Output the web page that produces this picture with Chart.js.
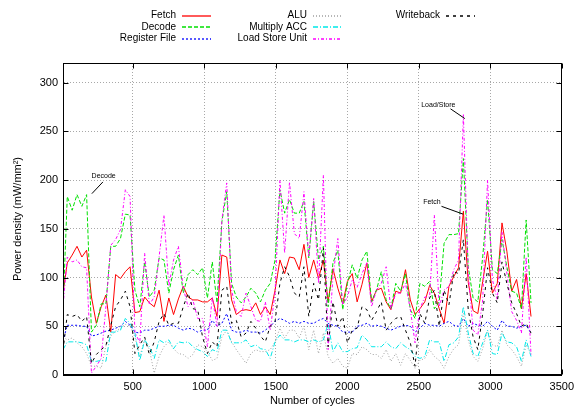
<!DOCTYPE html>
<html>
<head>
<meta charset="utf-8">
<script src="https://cdn.jsdelivr.net/npm/chart.js@4"></script>
<style>
  body { margin: 0; background: #fff; }
  #wrap { width: 579px; height: 408px; }
</style>
</head>
<body>
<div id="wrap"><canvas id="power-chart"></canvas></div>
<script>
// sample positions (cycles) shared by every unit
const cycles = [12, 42, 76, 110, 144, 177, 211, 245, 279, 312,
  346, 380, 414, 448, 481, 515, 549, 583, 616, 650,
  684, 718, 752, 785, 819, 853, 887, 920, 954, 988,
  1022, 1056, 1089, 1123, 1157, 1191, 1224, 1258, 1292, 1326,
  1360, 1393, 1427, 1461, 1495, 1529, 1562, 1596, 1630, 1664,
  1697, 1731, 1765, 1799, 1833, 1866, 1900, 1934, 1968, 2001,
  2035, 2069, 2103, 2137, 2170, 2204, 2238, 2272, 2305, 2339,
  2373, 2407, 2441, 2474, 2508, 2542, 2576, 2609, 2643, 2677,
  2711, 2745, 2778, 2812, 2846, 2880, 2913, 2947, 2981, 3015,
  3049, 3082, 3116, 3150, 3184, 3218, 3251, 3285];

const fetchPower = [84, 115, 123, 132, 121, 128, 80, 53, 70, 82,
  44, 103, 99, 106, 111, 64, 65, 80, 74, 70,
  87, 55, 79, 62, 78, 91, 80, 77, 77, 75,
  75, 79, 60, 123, 121, 77, 62, 66, 67, 66,
  74, 62, 70, 62, 87, 118, 104, 121, 120, 108,
  134, 100, 118, 99, 118, 75, 109, 89, 73, 96,
  104, 75, 93, 115, 75, 87, 89, 75, 67, 86,
  84, 108, 77, 62, 68, 75, 92, 84, 68, 53,
  91, 101, 110, 168, 95, 66, 63, 96, 127, 84,
  94, 156, 127, 86, 98, 68, 104, 60];

const decodePower = [67, 183, 169, 185, 173, 185, 44, 51, 73, 73,
  132, 132, 140, 165, 164, 87, 70, 116, 80, 87,
  120, 118, 84, 108, 123, 84, 103, 108, 103, 110,
  79, 116, 74, 157, 188, 94, 80, 74, 80, 89,
  84, 75, 87, 94, 118, 190, 166, 180, 166, 166,
  178, 120, 178, 118, 132, 70, 115, 128, 67, 94,
  113, 99, 118, 127, 75, 87, 106, 77, 68, 94,
  86, 104, 67, 58, 94, 91, 96, 68, 75, 135,
  144, 144, 145, 222, 111, 79, 75, 121, 180, 108,
  104, 139, 111, 86, 84, 68, 159, 74];

const regFilePower = [35, 51, 51, 51, 50, 50, 40, 41, 43, 45,
  46, 48, 50, 55, 51, 44, 43, 46, 46, 48,
  50, 50, 51, 51, 48, 46, 48, 47, 44, 46,
  46, 56, 50, 53, 63, 46, 44, 44, 46, 44,
  44, 43, 46, 50, 55, 58, 56, 53, 55, 53,
  55, 53, 53, 56, 58, 53, 51, 50, 44, 44,
  44, 50, 51, 53, 50, 51, 50, 48, 46, 48,
  50, 51, 50, 44, 48, 53, 51, 51, 50, 53,
  55, 51, 50, 58, 50, 53, 51, 50, 55, 50,
  46, 56, 50, 50, 48, 50, 51, 43];

const aluPower = [39, 36, 38, 33, 29, 22, 9, 9, 7, 30,
  40, 45, 48, 52, 50, 39, 19, 36, 26, 2,
  19, 29, 34, 27, 22, 21, 17, 21, 31, 29,
  24, 15, 17, 39, 46, 34, 26, 19, 12, 22,
  26, 24, 24, 26, 34, 48, 38, 46, 46, 38,
  50, 26, 46, 22, 43, 19, 12, 17, 9, 7,
  22, 21, 29, 26, 21, 21, 17, 26, 14, 22,
  10, 22, 15, 7, 15, 17, 26, 19, 15, 7,
  19, 27, 31, 63, 36, 19, 14, 27, 46, 31,
  29, 46, 31, 26, 19, 9, 31, 22];

const macPower = [26, 34, 34, 34, 33, 31, 14, 14, 15, 14,
  44, 44, 46, 58, 53, 43, 15, 36, 29, 17,
  36, 33, 36, 27, 34, 33, 34, 29, 26, 24,
  19, 26, 24, 46, 46, 33, 33, 33, 36, 29,
  31, 27, 26, 17, 34, 41, 36, 36, 34, 36,
  36, 34, 36, 34, 36, 53, 24, 33, 24, 24,
  27, 28, 41, 36, 29, 29, 29, 34, 29, 27,
  33, 29, 26, 19, 17, 19, 36, 34, 34, 14,
  31, 33, 39, 70, 43, 22, 19, 33, 46, 22,
  21, 43, 34, 33, 29, 14, 36, 19];

const lsuPower = [70, 121, 116, 118, 111, 110, 2, 9, 17, 70,
  133, 139, 149, 190, 183, 44, 33, 125, 72, 80,
  121, 164, 91, 118, 132, 89, 70, 77, 58, 58,
  29, 80, 50, 159, 197, 87, 65, 60, 84, 70,
  56, 55, 75, 46, 84, 200, 125, 198, 145, 140,
  188, 121, 181, 94, 205, 26, 101, 140, 72, 80,
  98, 90, 104, 115, 70, 87, 94, 111, 67, 84,
  84, 94, 67, 33, 68, 80, 80, 164, 70, 87,
  91, 108, 118, 267, 104, 46, 41, 77, 200, 98,
  77, 147, 104, 65, 56, 43, 121, 21];

const writebackPower = [25, 62, 60, 62, 55, 60, 12, 21, 26, 30,
  51, 70, 77, 86, 70, 22, 31, 39, 21, 34,
  55, 63, 51, 53, 53, 70, 84, 68, 67, 39,
  22, 34, 29, 87, 91, 53, 56, 39, 43, 55,
  48, 40, 34, 50, 55, 94, 111, 101, 84, 80,
  111, 60, 94, 77, 130, 29, 75, 50, 60, 33,
  46, 48, 70, 67, 56, 65, 75, 46, 53, 58,
  60, 46, 33, 9, 63, 53, 79, 87, 50, 87,
  72, 106, 104, 139, 67, 39, 26, 63, 110, 84,
  74, 116, 94, 74, 63, 50, 53, 43];

const xTicks = [500, 1000, 1500, 2000, 2500, 3000, 3500];
const yTicks = [0, 50, 100, 150, 200, 250, 300];

// arrow labels, in data coordinates
const notes = [
  { text: 'Decode', at: [212, 204], from: [291, 198], to: [214, 186] },
  { text: 'Load/Store', at: [2517, 277], from: [2722, 273], to: [2822, 263] },
  { text: 'Fetch', at: [2531, 177], from: [2659, 173], to: [2810, 165] }
];

const FONT = '"Liberation Sans", Arial, Helvetica, sans-serif';
Chart.defaults.font.family = FONT;
Chart.defaults.color = '#000';

function points(values) {
  return values.map((v, i) => ({ x: cycles[i], y: v }));
}

function line(label, values, color, dash) {
  return {
    label: label,
    data: points(values),
    borderColor: color,
    keyColor: color,
    keyDash: dash,
    borderWidth: 1,
    borderDash: dash,
    pointRadius: 0,
    tension: 0,
    fill: false
  };
}

// gnuplot style frame: full box with inward ticks
const frame = {
  id: 'frame',
  afterDatasetsDraw(chart) {
    let ctx = chart.ctx, a = chart.chartArea;
    let xs = chart.scales.x, ys = chart.scales.y;
    let l = Math.round(a.left) + 0.5, r = Math.round(a.right) - 0.5;
    let t = Math.round(a.top) + 0.5, b = Math.round(a.bottom) - 0.5;
    ctx.save();
    ctx.setLineDash([]);
    ctx.strokeStyle = '#000';
    ctx.lineWidth = 1;
    ctx.strokeRect(l, t, r - l, b - t);
    ctx.beginPath();
    xTicks.forEach(v => {
      let px = Math.round(xs.getPixelForValue(v)) + 0.5;
      ctx.moveTo(px, b); ctx.lineTo(px, b - 5);
      ctx.moveTo(px, t); ctx.lineTo(px, t + 5);
    });
    yTicks.forEach(v => {
      let py = Math.round(ys.getPixelForValue(v)) + 0.5;
      ctx.moveTo(l, py); ctx.lineTo(l + 5, py);
      ctx.moveTo(r, py); ctx.lineTo(r - 5, py);
    });
    ctx.stroke();

    // labels with pointer lines
    ctx.font = '7px ' + FONT;
    ctx.fillStyle = '#000';
    ctx.textBaseline = 'middle';
    ctx.textAlign = 'left';
    notes.forEach(n => {
      ctx.fillText(n.text, xs.getPixelForValue(n.at[0]), ys.getPixelForValue(n.at[1]));
      ctx.beginPath();
      ctx.moveTo(xs.getPixelForValue(n.from[0]), ys.getPixelForValue(n.from[1]));
      ctx.lineTo(xs.getPixelForValue(n.to[0]), ys.getPixelForValue(n.to[1]));
      ctx.stroke();
    });
    ctx.restore();
  }
};

// key in three columns, text right aligned before the sample line
const key = {
  id: 'key',
  afterDraw(chart) {
    let ctx = chart.ctx;
    let colRight = [176, 307, 440];
    let rowY = [15.5, 27, 38.5];
    chart.data.datasets.forEach((ds, i) => {
      let x = colRight[Math.floor(i / 3)], y = rowY[i % 3];
      ctx.save();
      ctx.font = '10px ' + FONT;
      ctx.fillStyle = '#000';
      ctx.textAlign = 'right';
      ctx.textBaseline = 'middle';
      ctx.fillText(ds.label, x, y);
      ctx.lineWidth = 1.3;
      ctx.strokeStyle = ds.keyColor;
      ctx.setLineDash(ds.keyDash);
      ctx.beginPath();
      ctx.moveTo(x + 6, Math.round(y));
      ctx.lineTo(x + 35, Math.round(y));
      ctx.stroke();
      ctx.restore();
    });
  }
};

function draw_chart(target) {
  let ctx = document.getElementById(target).getContext('2d');
  let datasets = [
    line('Fetch', fetchPower, '#ff0000', []),
    line('Decode', decodePower, '#00e000', [4, 2]),
    line('Register File', regFilePower, '#0000ff', [2, 2]),
    line('ALU', aluPower, '#a0a0a0', [1, 2]),
    line('Multiply ACC', macPower, '#00e8e8', [5, 2, 1, 2]),
    line('Load Store Unit', lsuPower, '#ff00ff', [3, 2, 1, 2]),
    line('Writeback', writebackPower, '#000000', [3, 4])
  ];
  // later units drawn on top, as gnuplot does
  datasets.forEach((ds, i) => { ds.order = datasets.length - i; });

  new Chart(ctx, {
    type: 'line',
    data: { datasets: datasets },
    plugins: [frame, key],
    options: {
      responsive: true,
      maintainAspectRatio: false,
      animation: false,
      layout: { padding: { top: 63, right: 15, left: 0, bottom: 0 } },
      plugins: { legend: { display: false }, tooltip: { enabled: false } },
      scales: {
        x: {
          type: 'linear',
          min: 12,
          max: 3500,
          afterBuildTicks: s => { s.ticks = xTicks.map(v => ({ value: v })); },
          afterFit: s => { s.height = 33; },
          grid: { color: '#a8a8a8', drawTicks: false },
          border: { display: true, color: '#000', dash: [1, 2] },
          ticks: { font: { size: 11 }, padding: 5, maxRotation: 0, callback: v => String(v) },
          title: { display: true, text: 'Number of cycles', font: { size: 11 }, padding: 0 }
        },
        y: {
          min: 0,
          max: 320,
          afterBuildTicks: s => { s.ticks = yTicks.map(v => ({ value: v })); },
          afterFit: s => { s.width = 63; },
          grid: { color: '#a8a8a8', drawTicks: false },
          border: { display: true, color: '#000', dash: [1, 2] },
          ticks: { font: { size: 11 }, padding: 5, callback: v => String(v) },
          title: { display: true, text: 'Power density (mW/mm²)', font: { size: 11 }, padding: { top: 11, bottom: 0 } }
        }
      }
    }
  });
}

draw_chart('power-chart');
</script>
</body>
</html>
